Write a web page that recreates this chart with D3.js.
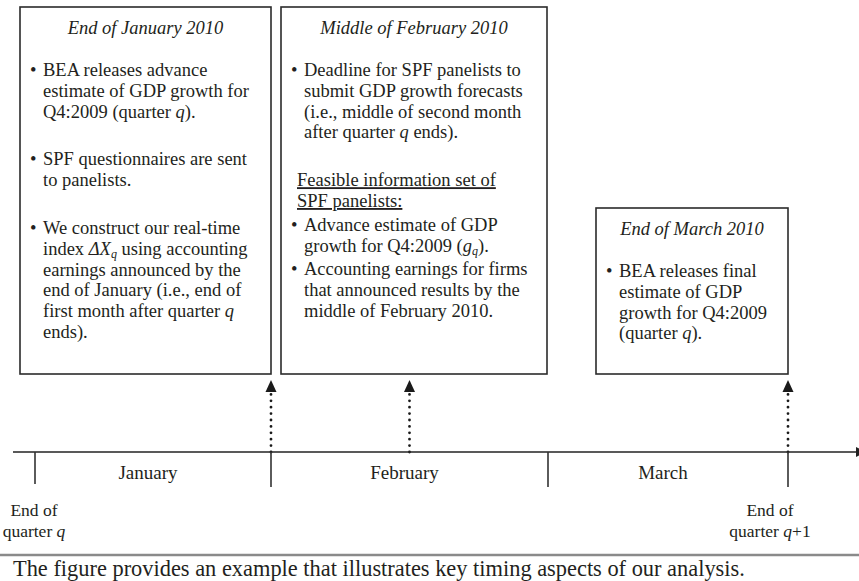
<!DOCTYPE html>
<html>
<head>
<meta charset="utf-8">
<script src="https://cdn.jsdelivr.net/npm/d3@7"></script>
<style>
  body { margin: 0; background: #fff; }
  svg text { font-family: "Liberation Serif", "Times New Roman", serif; fill: #231f20; }
</style>
</head>
<body>
<svg id="timeline" width="859" height="581"></svg>
<script>
// ---- data ----
const months = ["January", "February", "March"];
const monthEdges = [0, 1, 2, 3];              // end of Dec, Jan, Feb, Mar
const eventPos = [1, 1.5, 3];                 // where each box points on the timeline
const eventTitles = ["End of January 2010", "Middle of February 2010", "End of March 2010"];
const endLabels = [["End of", "quarter <i>q</i>"], ["End of", "quarter <i>q</i>+1"]];
const caption = "The figure provides an example that illustrates key timing aspects of our analysis.";

// "" = paragraph gap, "~" = small gap, "_" = underlined heading, "• " = bullet
const janLines = [
  "• BEA releases advance",
  "estimate of GDP growth for",
  "Q4:2009 (quarter <i>q</i>).",
  "",
  "• SPF questionnaires are sent",
  "to panelists.",
  "",
  "• We construct our real-time",
  "index <i>ΔX</i><s>q</s> using accounting",
  "earnings announced by the",
  "end of January (i.e., end of",
  "first month after quarter <i>q</i>",
  "ends)."
];
const febLines = [
  "• Deadline for SPF panelists to",
  "submit GDP growth forecasts",
  "(i.e., middle of second month",
  "after quarter <i>q</i> ends).",
  "",
  "_Feasible information set of",
  "_SPF panelists:",
  "~",
  "• Advance estimate of GDP",
  "growth for Q4:2009 (<i>g</i><s>q</s>).",
  "~",
  "• Accounting earnings for firms",
  "that announced results by the",
  "middle of February 2010."
];
const marLines = [
  "• BEA releases final",
  "estimate of GDP",
  "growth for Q4:2009",
  "(quarter <i>q</i>)."
];
const boxLines = [janLines, febLines, marLines];

// ---- layout ----
let svg = d3.select("svg#timeline");
const timeY = 452;
const lineH = 20.8;
const fs = "18.5px";
const x = d3.scaleLinear().domain(monthEdges).range([35, 271, 548, 788]);

// box frames: left, right, title centre y
const boxes = [
  { x0: 20,  x1: x(1), ty: 28 },
  { x0: 281, x1: 547,  ty: 28 },
  { x0: 596, x1: x(3), ty: 229 }
];
const boxBottom = 374;

// write a line with <i> and <s> (italic subscript) markup into a text element
function rich(textSel, str) {
  const re = /<i>(.*?)<\/i>|<s>(.*?)<\/s>|([^<]+)/g;
  let m, shifted = false;
  while ((m = re.exec(str)) !== null) {
    let t = textSel.append("tspan");
    if (m[1] !== undefined) {
      t.text(m[1]).style("font-style", "italic");
      if (shifted) { t.attr("dy", -3); shifted = false; }
    } else if (m[2] !== undefined) {
      t.text(m[2]).style("font-style", "italic").style("font-size", "12px").attr("dy", 3);
      shifted = true;
    } else {
      t.text(m[3]);
      if (shifted) { t.attr("dy", -3); shifted = false; }
    }
  }
}

// boxes
boxes.forEach((b, i) => {
  let g = svg.append("g");
  g.append("rect")
    .attr("x", b.x0).attr("y", b.ty - 21)
    .attr("width", b.x1 - b.x0).attr("height", boxBottom - (b.ty - 21))
    .attr("fill", "none").attr("stroke", "#2b2b2b").attr("stroke-width", 1.6);

  g.append("text")
    .attr("x", (b.x0 + b.x1) / 2).attr("y", b.ty + 6)
    .attr("text-anchor", "middle")
    .style("font-size", fs).style("font-style", "italic")
    .text(eventTitles[i]);

  let y = b.ty + 42;
  boxLines[i].forEach(line => {
    if (line === "") { y += 27; return; }
    if (line === "~") { y += 3; return; }
    if (line.startsWith("• ")) {
      g.append("text").attr("x", b.x0 + 10).attr("y", y + 6)
        .style("font-size", fs).text("•");
      rich(g.append("text").attr("x", b.x0 + 23).attr("y", y + 6).style("font-size", fs), line.slice(2));
    } else if (line.startsWith("_")) {
      rich(g.append("text").attr("x", b.x0 + 16).attr("y", y + 6).style("font-size", fs)
        .style("text-decoration", "underline"), line.slice(1));
    } else {
      rich(g.append("text").attr("x", b.x0 + 23).attr("y", y + 6).style("font-size", fs), line);
    }
    y += lineH;
  });
});

// dotted arrows from the timeline up to the boxes
eventPos.forEach(p => {
  let ax = x(p);
  svg.append("line")
    .attr("x1", ax).attr("x2", ax)
    .attr("y1", timeY).attr("y2", 392)
    .attr("stroke", "#1a1a1a").attr("stroke-width", 2.8)
    .attr("stroke-linecap", "round").attr("stroke-dasharray", "0,6.4");
  svg.append("path")
    .attr("d", d3.line()([[ax, 380], [ax - 5.5, 392], [ax + 5.5, 392]]) + "Z")
    .attr("fill", "#1a1a1a");
});

// timeline axis
svg.append("line")
  .attr("x1", 13).attr("x2", 857)
  .attr("y1", timeY).attr("y2", timeY)
  .attr("stroke", "#222").attr("stroke-width", 1.6);
svg.append("path")
  .attr("d", d3.line()([[856, timeY - 5], [866, timeY], [856, timeY + 5]]) + "Z")
  .attr("fill", "#222");

// month boundary ticks
monthEdges.forEach((e, i) => {
  svg.append("line")
    .attr("x1", x(e)).attr("x2", x(e))
    .attr("y1", timeY).attr("y2", i === 0 ? 484 : 487)
    .attr("stroke", "#333").attr("stroke-width", 1.6);
});

// month names
months.forEach((m, i) => {
  svg.append("text")
    .attr("x", (x(monthEdges[i]) + x(monthEdges[i + 1])) / 2 - 5)
    .attr("y", 479)
    .attr("text-anchor", "middle")
    .style("font-size", "19px")
    .text(m);
});

// end-of-quarter labels
[[x(0) - 1, endLabels[0]], [x(3) - 18, endLabels[1]]].forEach(([lx, lines]) => {
  lines.forEach((l, k) => {
    rich(svg.append("text").attr("x", lx).attr("y", 516 + k * 21)
      .attr("text-anchor", "middle").style("font-size", "17.5px"), l);
  });
});

// caption
svg.append("line")
  .attr("x1", 0).attr("x2", 859).attr("y1", 555).attr("y2", 555)
  .attr("stroke", "#8a8a8a").attr("stroke-width", 2.5);
svg.append("text")
  .attr("x", 13).attr("y", 576)
  .style("font-size", "22.4px")
  .text(caption);
</script>
</body>
</html>
